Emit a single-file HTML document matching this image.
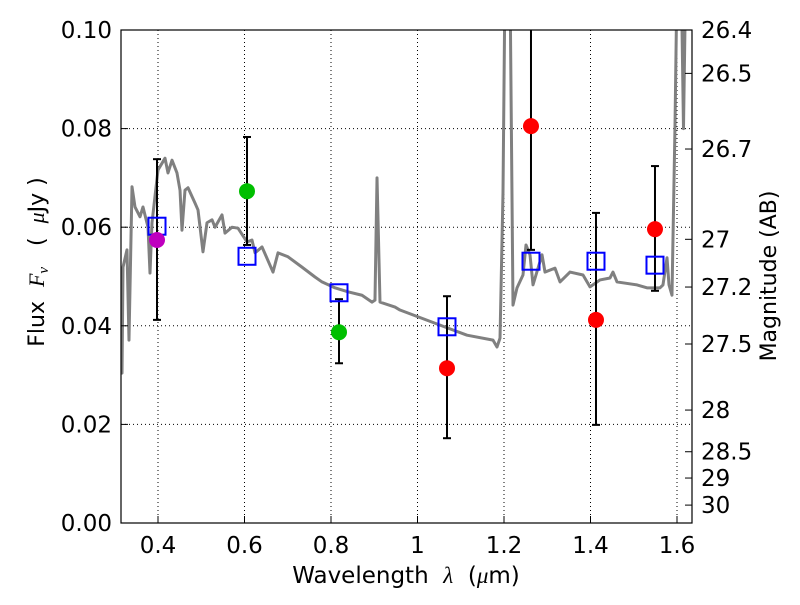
<!DOCTYPE html>
<html><head><meta charset="utf-8"><style>
body{margin:0;background:#fff}
text{font-family:"DejaVu Sans","Liberation Sans",sans-serif;fill:#000;white-space:pre}
</style></head><body>
<svg id="c" width="800" height="600" xmlns="http://www.w3.org/2000/svg">
<defs><clipPath id="clip"><rect x="121" y="30" width="571" height="493"/></clipPath></defs>
<rect x="0" y="0" width="800" height="600" fill="#fff"/>
<g id="grid"></g>
<g id="marks" clip-path="url(#clip)"></g>
<g id="pts"></g>
<rect x="121" y="30" width="571" height="493" fill="none" stroke="#000" stroke-width="1.2"/>
<g id="axes"></g>
<text x="406" y="583" font-size="23" text-anchor="middle">Wavelength  <tspan font-family="Liberation Serif" font-style="italic">λ</tspan>  (<tspan font-family="Liberation Serif" font-style="italic">μ</tspan>m)</text>
<text transform="translate(44,262) rotate(-90)" font-size="22" text-anchor="middle">Flux  <tspan font-family="Liberation Serif" font-style="italic">F<tspan font-size="15" dy="4">ν</tspan></tspan><tspan dy="-4">   (  </tspan><tspan font-family="Liberation Serif" font-style="italic">μ</tspan>Jy )</text>
<text transform="translate(776,276) rotate(-90)" font-size="22" text-anchor="middle">Magnitude (AB)</text>
</svg>
<script>
const specWave=[0.3145,0.3168,0.3191,0.3283,0.3329,0.3399,0.3468,0.3584,0.3653,0.3769,0.3815,0.3861,0.4,0.4162,0.4231,0.4324,0.4439,0.4509,0.4555,0.4624,0.4694,0.4855,0.4925,0.504,0.5133,0.5249,0.5318,0.548,0.5549,0.5711,0.585,0.6058,0.6173,0.6243,0.6405,0.6659,0.6775,0.7006,0.7329,0.763,0.7792,0.8092,0.8393,0.8717,0.8948,0.9017,0.9064,0.9133,0.948,0.9595,1.0682,1.1145,1.1746,1.1838,1.1908,1.1977,1.2023,1.2139,1.2208,1.2301,1.2439,1.2509,1.2601,1.2671,1.2879,1.2948,1.3179,1.3295,1.3526,1.3827,1.3988,1.422,1.4451,1.452,1.4613,1.5075,1.5306,1.5607,1.5676,1.5769,1.5815,1.5884,1.5954,1.6,1.61,1.615,1.62,1.63];
const specFlux=[0.031,0.0304,0.0519,0.0554,0.0371,0.0682,0.0641,0.0621,0.0641,0.06,0.0507,0.0609,0.0716,0.074,0.071,0.0736,0.071,0.0675,0.0594,0.0675,0.068,0.0649,0.0635,0.055,0.0609,0.0615,0.06,0.0625,0.0588,0.06,0.0598,0.057,0.0574,0.0548,0.056,0.0509,0.0548,0.054,0.0519,0.0499,0.0489,0.0477,0.0469,0.0462,0.0448,0.0452,0.07,0.0448,0.0438,0.0432,0.0396,0.0381,0.0371,0.0357,0.0375,0.0671,0.11,0.11,0.0442,0.0477,0.0503,0.0564,0.0544,0.0483,0.0544,0.0509,0.0517,0.0489,0.0509,0.0503,0.0479,0.0493,0.0497,0.0509,0.0489,0.0483,0.0477,0.0477,0.0483,0.0538,0.0483,0.0462,0.0807,0.11,0.11,0.08,0.11,0.11];
const bandWave=[0.3977,0.6058,0.8185,1.0682,1.2624,1.4127,1.5491];
const modelFlux=[0.0602,0.0541,0.0467,0.0398,0.0531,0.0531,0.0523];
const obsWave=[0.3977,0.6058,0.8185,1.0682,1.2624,1.4127,1.5491];
const obsFlux=[0.0574,0.0673,0.0387,0.0314,0.0805,0.0412,0.0596];
const errHi=[0.0738,0.0783,0.0454,0.046,0.11,0.0629,0.0724];
const errLo=[0.0412,0.0564,0.0324,0.0172,0.0554,0.0199,0.0471];
const obsColor=['#bf00bf','#00bf00','#00bf00','red','red','red','red'];
const xTicks=[0.4,0.6,0.8,1.0,1.2,1.4,1.6];
const xTickLabels=['0.4','0.6','0.8','1','1.2','1.4','1.6'];
const yTicks=[0,0.02,0.04,0.06,0.08,0.1];
const yTickLabels=['0.00','0.02','0.04','0.06','0.08','0.10'];
const magTicks=[26.4,26.5,26.7,27,27.2,27.5,28,28.5,29,30];
const magTickLabels=['26.4','26.5','26.7','27','27.2','27.5','28','28.5','29','30'];

const X=v=>158+(v-0.4)*432.5;
const Y=v=>523-v*4930;
const NS='http://www.w3.org/2000/svg';
function mk(tag,attrs,parent){const e=document.createElementNS(NS,tag);for(const k in attrs)e.setAttribute(k,attrs[k]);document.getElementById(parent).appendChild(e);return e;}
xTicks.forEach((t,i)=>{
 const g=mk('line',{x1:X(t),x2:X(t),y1:30,y2:523,stroke:'#000','stroke-width':1,'stroke-dasharray':'1,3'},'grid');
 
 
 const tk=mk('line',{x1:X(t),x2:X(t),y1:523,y2:516,stroke:'#000'},'axes');
 
 
 const tx=mk('text',{x:X(t),y:553,'font-size':23,'text-anchor':'middle'},'axes');tx.textContent=xTickLabels[i];
 
 
});
yTicks.forEach((t,i)=>{
 const g=mk('line',{x1:121,x2:692,y1:Y(t),y2:Y(t),stroke:'#000','stroke-width':1,'stroke-dasharray':'1,3'},'grid');
 
 
 const tk=mk('line',{x1:121,x2:128,y1:Y(t),y2:Y(t),stroke:'#000'},'axes');
 
 
 const tx=mk('text',{x:112,y:Y(t)+8,'font-size':23,'text-anchor':'end'},'axes');tx.textContent=yTickLabels[i];
 
 
});
magTicks.forEach((m,i)=>{
 const f=Math.pow(10,(23.9-m)/2.5);const y=Y(f);
 const tk=mk('line',{x1:692,x2:685,y1:y,y2:y,stroke:'#000'},'axes');
 
 
 const tx=mk('text',{x:701,y:y+8,'font-size':23},'axes');tx.textContent=magTickLabels[i];
 
 
});
const sp=mk('polyline',{points:specWave.map((w,i)=>X(w)+','+Y(specFlux[i])).join(' '),fill:'none',stroke:'#808080','stroke-width':3,'stroke-linejoin':'round'},'marks');


obsWave.forEach((w,i)=>{
 const x=X(w);const hi=Math.max(Y(errHi[i]),30),lo=Math.min(Y(errLo[i]),523);
 const eb=mk('line',{x1:x,x2:x,y1:hi,y2:lo,stroke:'#000','stroke-width':2},'pts');
 
 
 [Y(errHi[i]),Y(errLo[i])].forEach(y=>{if(y>=30&&y<=523){const c=mk('line',{x1:x-4,x2:x+4,y1:y,y2:y,stroke:'#000','stroke-width':2},'pts');
  
  }});
});
bandWave.forEach((w,i)=>{
 const r=mk('rect',{x:X(w)-8.5,y:Y(modelFlux[i])-8.5,width:17,height:17,fill:'none',stroke:'#0000ff','stroke-width':2},'pts');
 
 
});
obsWave.forEach((w,i)=>{
 const c=mk('circle',{cx:X(w),cy:Y(obsFlux[i]),r:8,fill:obsColor[i]},'pts');
 
 
});
</script>
</body></html>
